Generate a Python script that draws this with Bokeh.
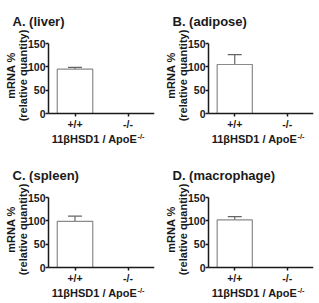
from bokeh.plotting import figure
from bokeh.layouts import gridplot
from bokeh.models import Range1d, FixedTicker, Whisker, ColumnDataSource, Label, TeeHead
from bokeh.embed import file_html
from bokeh.resources import INLINE
import math

panel_titles = ["A. (liver)", "B. (adipose)", "C. (spleen)", "D. (macrophage)"]
genotypes = ["+/+", "-/-"]
mean_values = [[95, 0], [105, 0], [99, 0], [102, 0]]
upper_values = [[99, 0], [126, 0], [110, 0], [109, 0]]
y_ticks = [0, 50, 100, 150]
x_label = "11\u03b2HSD1 / ApoE"
x_label_sup = "-/-"
y_label_lines = ["mRNA %", "(relative quantity)"]

FONT = "Liberation Sans"
TXT = "#1a1a1a"
YMAX = 150
AXIS_PX = 70      # pixel height of the 0..150 axis
LEFT = 48         # pixel room left of the y axis
BOTTOM = 1
HEADROOM = 15     # pixels of frame above the top of the y axis

def px_to_y(dy):
    """data y of a point dy pixels below the zero line"""
    return -dy * YMAX / AXIS_PX

def make_panel(i, w, h, axis_top, right):
    n = len(genotypes)
    pos = [k + 0.5 for k in range(n)]
    top = axis_top - HEADROOM
    y_hi = YMAX + HEADROOM * YMAX / AXIS_PX
    y_lo = px_to_y(h - BOTTOM - (axis_top + AXIS_PX))
    ppu = (w - right - LEFT) / n
    x_lo = -LEFT / ppu
    src = ColumnDataSource(dict(x=pos, g=genotypes, v=mean_values[i], u=upper_values[i]))
    p = figure(width=w, height=h, x_range=Range1d(x_lo, n), y_range=Range1d(y_lo, y_hi),
               output_backend="svg", toolbar_location=None,
               min_border_left=0, min_border_right=right, min_border_top=top,
               min_border_bottom=BOTTOM)
    p.vbar(x="x", top="v", bottom=0, width=0.67, source=src, fill_color="white",
           line_color="#8a8a8a", line_width=1.2)
    wk = Whisker(base="x", lower="v", upper="u", source=src,
                 line_color="#666666", line_width=1.2,
                 upper_head=TeeHead(size=14, line_color="#666666", line_width=1.2),
                 lower_head=None)
    p.add_layout(wk)
    p.grid.visible = False
    p.outline_line_color = None
    p.background_fill_color = "white"
    p.border_fill_color = "white"
    p.title.text = panel_titles[i]
    p.title.text_font = FONT
    p.title.text_font_size = "13px"
    p.title.text_font_style = "bold"
    p.title.text_color = TXT
    p.title.align = "left"
    p.title.offset = 12
    p.title.standoff = 0
    for ax in (p.xaxis, p.yaxis):
        ax.axis_line_color = TXT
        ax.axis_line_width = 1.5
        ax.major_tick_line_color = TXT
        ax.major_tick_line_width = 1.5
        ax.major_tick_out = 3
        ax.major_tick_in = 0
        ax.minor_tick_line_color = None
        ax.major_label_text_font = FONT
        ax.major_label_text_font_style = "bold"
        ax.major_label_text_color = TXT
        ax.major_label_text_font_size = "10.5px"
    p.xaxis.fixed_location = 0
    p.xaxis.bounds = (0, n)
    p.xaxis.ticker = FixedTicker(ticks=pos)
    p.xaxis.major_label_overrides = {x: g for x, g in zip(pos, genotypes)}
    p.xaxis.major_label_standoff = 1
    p.yaxis.fixed_location = 0
    p.yaxis.bounds = (0, YMAX)
    p.yaxis.ticker = FixedTicker(ticks=y_ticks)
    p.yaxis.major_label_standoff = 0
    txt = dict(text_font=FONT, text_font_style="bold", text_color=TXT)
    # x axis title with superscript
    p.add_layout(Label(x=94, y=px_to_y(25.5), x_units="screen", text=x_label,
                       text_font_size="11px", text_align="center",
                       text_baseline="middle", **txt))
    p.add_layout(Label(x=137, y=px_to_y(22.5), x_units="screen", text=x_label_sup,
                       text_font_size="7.5px", text_align="left",
                       text_baseline="middle", **txt))
    # y axis title, two rotated lines
    for xs, line in zip([10, 22], y_label_lines):
        p.add_layout(Label(x=xs, y=px_to_y(-38), x_units="screen", text=line,
                           angle=math.pi / 2, text_font_size="11px",
                           text_align="center", text_baseline="middle", **txt))
    return p

pa = make_panel(0, 160, 153, 43, 6)
pb = make_panel(1, 159, 153, 43, 6)
pc = make_panel(2, 160, 150, 44, 6)
pd = make_panel(3, 159, 150, 44, 6)

p = gridplot([[pa, pb], [pc, pd]], toolbar_location=None)
open("out.html", "w").write(file_html(p, INLINE))
